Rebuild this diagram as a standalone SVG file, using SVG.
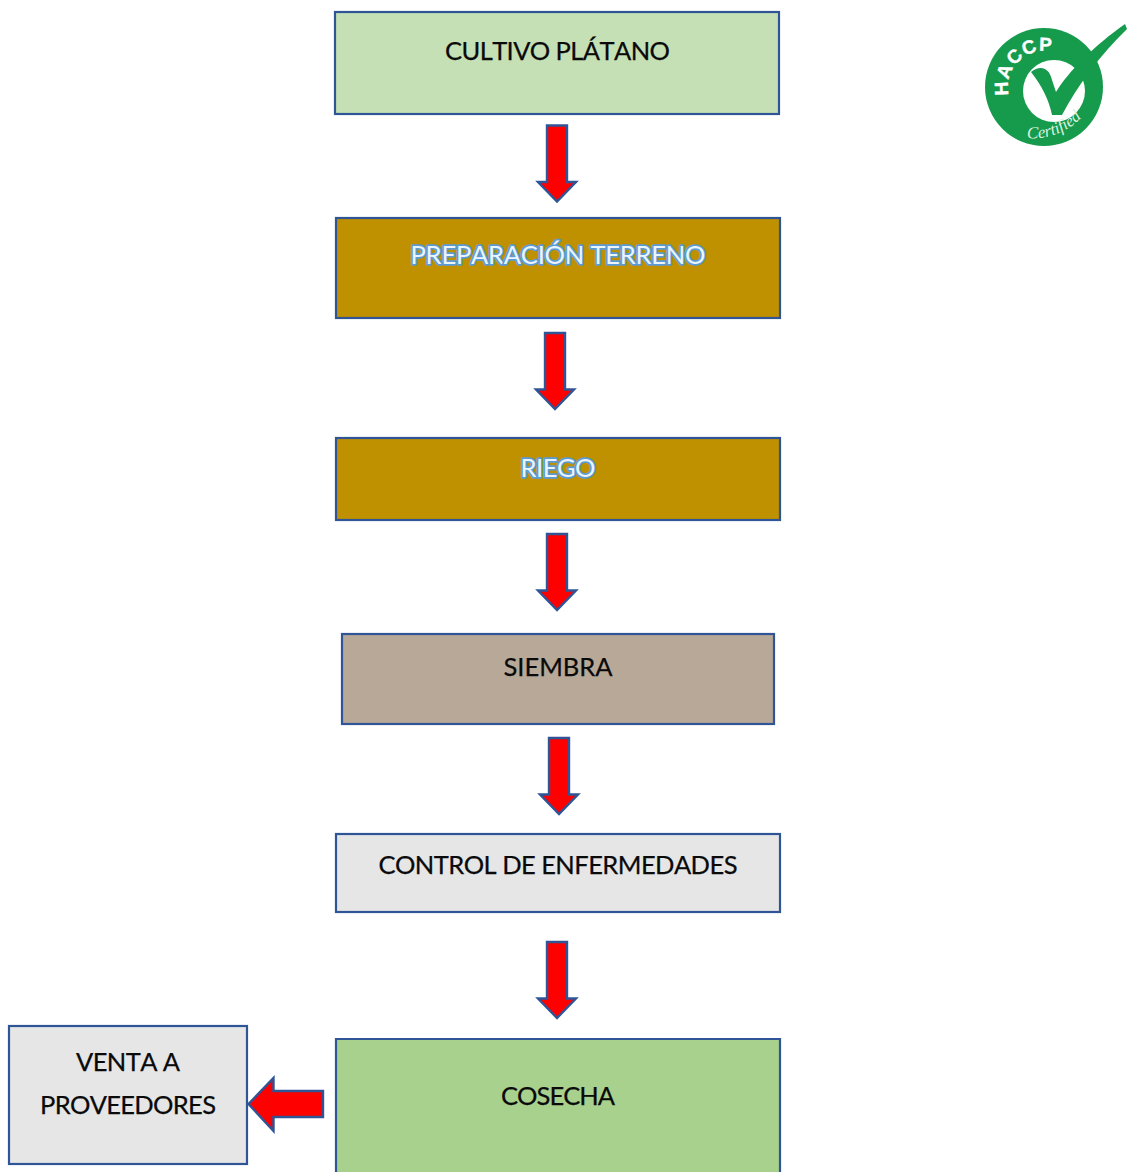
<svg xmlns="http://www.w3.org/2000/svg" width="1138" height="1172" viewBox="0 0 1138 1172">
<style>
.box{stroke:#2f5597;stroke-width:2.2}
.arrow{fill:#ff0000;stroke:#2f5597;stroke-width:2.4}
text{font-family:"Lato","Liberation Sans",sans-serif;font-size:25.5px;font-kerning:none;text-anchor:middle;fill:#0a0a0a;stroke:#0a0a0a;stroke-width:.25px}
text.glow{fill:#eaf4fb;stroke:#5b9bd5;stroke-width:3.4px;paint-order:stroke;stroke-linejoin:round}
text.logo{text-anchor:start;stroke:none}
</style>
<defs>
<filter id="soft" x="-10%" y="-10%" width="120%" height="120%"><feGaussianBlur stdDeviation="0.7"/></filter>
<path id="arcTop" d="M1009 95A36 36 0 0 1 1068 60"/>
<path id="arcBot" d="M1024 138Q1068 142 1094 102"/>
<path id="down" class="arrow" d="M-10 0H10V56.500H19L0 76L-19 56.500H-10Z"/>
</defs>
<rect width="1138" height="1172" fill="#ffffff"/>
<g id="connectors">
<use href="#down" x="557" y="125.500"/>
<use href="#down" x="555" y="333"/>
<use href="#down" x="557" y="534"/>
<use href="#down" x="559" y="738"/>
<use href="#down" x="557" y="942"/>
<path class="arrow" d="M323 1091V1117H273.500V1131L248.500 1104L273.500 1078V1091Z"/>
</g>
<g id="cultivo"><rect class="box" x="335" y="12" width="444" height="102" fill="#c5e0b4"/><text x="557.500" y="60" textLength="225">CULTIVO PLÁTANO</text></g>
<g id="preparacion"><rect class="box" x="336" y="218" width="444" height="100" fill="#bf9000"/><text class="glow" x="558" y="264" textLength="295">PREPARACIÓN TERRENO</text></g>
<g id="riego"><rect class="box" x="336" y="438" width="444" height="82" fill="#bf9000"/><text class="glow" x="558" y="477" textLength="75">RIEGO</text></g>
<g id="siembra"><rect class="box" x="342" y="634" width="432" height="90" fill="#b8a898"/><text x="558" y="676" textLength="109">SIEMBRA</text></g>
<g id="control"><rect class="box" x="336" y="834" width="444" height="78" fill="#e6e6e6"/><text x="558" y="874" textLength="359">CONTROL DE ENFERMEDADES</text></g>
<g id="cosecha"><path class="box" d="M336 1172V1039H780V1172" fill="#a9d18e"/><text x="558" y="1105" textLength="114">COSECHA</text></g>
<g id="venta"><rect class="box" x="9" y="1026" width="238" height="138" fill="#e6e6e6"/><text x="128" y="1071" textLength="104">VENTA A</text><text x="128" y="1114" textLength="176">PROVEEDORES</text></g>
<g id="haccp">
<circle cx="1044" cy="87" r="59" fill="#159a4c" filter="url(#soft)"/>
<circle cx="1054" cy="91" r="31" fill="#ffffff" filter="url(#soft)"/>
<path d="M1031 72C1040 65 1049 67 1052 80L1056 92C1068 72 1095 45 1125 24L1127 29C1100 55 1078 85 1062 115H1052C1049 100 1042 86 1031 72Z" fill="#159a4c" filter="url(#soft)"/>
<text class="logo" style="font-family:'Liberation Sans',sans-serif;font-size:19px;font-weight:700;stroke:#fff;stroke-width:.4px"><textPath href="#arcTop" style="fill:#ffffff" textLength="72">HACCP</textPath></text>
<text class="logo" style="font-family:'Liberation Serif',serif;font-size:17px;font-style:italic"><textPath href="#arcBot" style="fill:#d9f2e0" startOffset="3">Certified</textPath></text>
</g>
</svg>
